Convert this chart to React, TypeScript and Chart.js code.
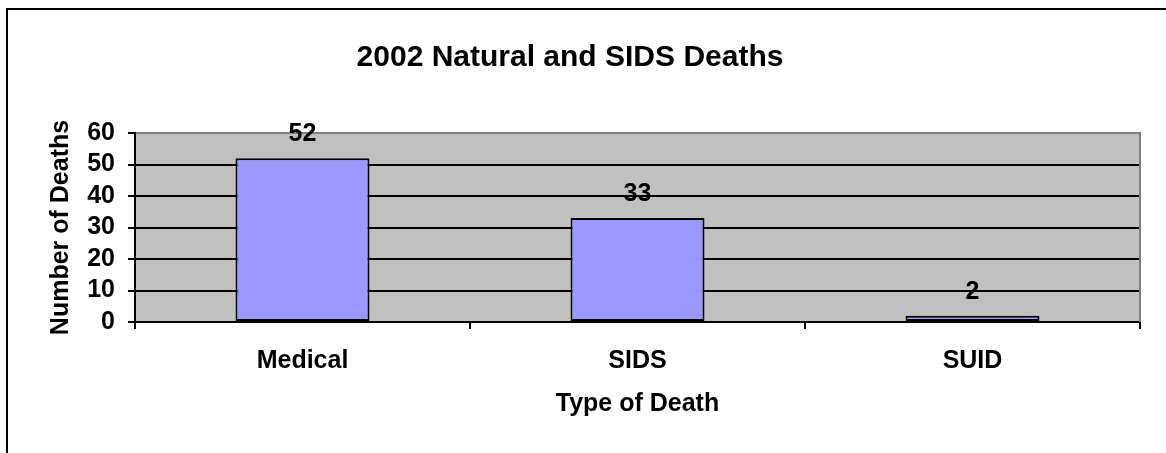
import React, { useEffect, useRef } from "react";
import { Chart, registerables } from "chart.js";

Chart.register(...registerables);

const categories = ["Medical", "SIDS", "SUID"];
const deaths = [52, 33, 2];
const yTicks = [0, 10, 20, 30, 40, 50, 60];
const chartTitle = "2002 Natural and SIDS Deaths";
const xTitle = "Type of Death";
const yTitle = "Number of Deaths";

const FONT = '"Liberation Sans", Arial, Helvetica, sans-serif';

export default function App() {
  const ref = useRef<HTMLCanvasElement>(null);

  useEffect(() => {
    const canvas = ref.current;
    if (!canvas) return;

    const plotBg = {
      id: "plotBg",
      beforeDraw(chart: any) {
        const { ctx, chartArea: a } = chart;
        ctx.save();
        ctx.fillStyle = "#C0C0C0";
        ctx.fillRect(a.left, a.top, a.right - a.left, a.bottom - a.top);
        ctx.restore();
      },
      beforeDatasetsDraw(chart: any) {
        const { ctx, chartArea: a } = chart;
        ctx.save();
        ctx.strokeStyle = "#808080";
        ctx.lineWidth = 2;
        ctx.beginPath();
        ctx.moveTo(a.right, a.top - 1);
        ctx.lineTo(a.right, a.bottom);
        ctx.stroke();
        ctx.restore();
      },
    };

    const dataLabels = {
      id: "dataLabels",
      afterDatasetsDraw(chart: any) {
        const { ctx } = chart;
        const meta = chart.getDatasetMeta(0);
        ctx.save();
        ctx.font = `bold 25px ${FONT}`;
        ctx.fillStyle = "#000";
        ctx.textAlign = "center";
        ctx.textBaseline = "alphabetic";
        meta.data.forEach((el: any, i: number) => {
          ctx.fillText(String(deaths[i]), el.x, el.y - 17);
        });
        ctx.restore();
      },
    };

    const chart = new Chart(canvas, {
      type: "bar",
      data: {
        labels: categories,
        datasets: [
          {
            label: yTitle,
            data: deaths,
            backgroundColor: "#9999FF",
            borderColor: "#000000",
            borderWidth: 2,
            borderSkipped: false,
            barPercentage: 0.4,
            categoryPercentage: 1.0,
          },
        ],
      },
      options: {
        responsive: false,
        animation: false,
        devicePixelRatio: 1,
        layout: { padding: { top: 0, left: 0, right: 26, bottom: 0 } },
        plugins: {
          legend: { display: false },
          tooltip: { enabled: false },
          title: {
            display: true,
            text: chartTitle,
            color: "#000",
            font: { family: FONT, size: 30, weight: "bold" },
            padding: { top: 40, bottom: 57 },
          },
        },
        scales: {
          x: {
            type: "category",
            offset: true,
            afterFit(scale: any) {
              scale.height = 131;
            },
            grid: {
              offset: true,
              drawOnChartArea: false,
              drawTicks: true,
              tickLength: 7,
              color: "#000",
              tickColor: "#000",
              lineWidth: 2,
            },
            border: { display: true, color: "#000", width: 2 },
            ticks: {
              color: "#000",
              padding: 17,
              maxRotation: 0,
              autoSkip: false,
              font: { family: FONT, size: 25, weight: "bold" },
            },
            title: {
              display: true,
              text: xTitle,
              color: "#000",
              font: { family: FONT, size: 25, weight: "bold" },
              padding: { top: 0, bottom: 34 },
            },
          },
          y: {
            min: 0,
            max: 60,
            afterFit(scale: any) {
              scale.width = 135;
            },
            afterBuildTicks(scale: any) {
              scale.ticks = yTicks.map((v) => ({ value: v }));
            },
            grid: {
              drawTicks: true,
              tickLength: 7,
              lineWidth: 2,
              color: (c: any) =>
                c.tick && c.tick.value === 60 ? "#808080" : "#000000",
              tickColor: "#000",
            },
            border: { display: true, color: "#000", width: 2 },
            ticks: {
              color: "#000",
              padding: 13,
              autoSkip: false,
              font: { family: FONT, size: 25, weight: "bold" },
            },
            title: {
              display: true,
              text: yTitle,
              color: "#000",
              font: { family: FONT, size: 25, weight: "bold" },
              padding: { top: 46, bottom: 0 },
            },
          },
        },
      },
      plugins: [plotBg, dataLabels],
    });

    return () => {
      chart.destroy();
    };
  }, []);

  return (
    <div
      style={{
        position: "fixed",
        left: 0,
        top: 0,
        width: 1166,
        height: 453,
        overflow: "hidden",
        background: "#ffffff",
      }}
    >
      <div
        style={{
          position: "absolute",
          left: 6,
          top: 8,
          width: 1200,
          height: 500,
          border: "2px solid #000",
        }}
      />
      <canvas
        ref={ref}
        width={1166}
        height={453}
        style={{ position: "absolute", left: 0, top: 0, width: 1166, height: 453 }}
      />
    </div>
  );
}
